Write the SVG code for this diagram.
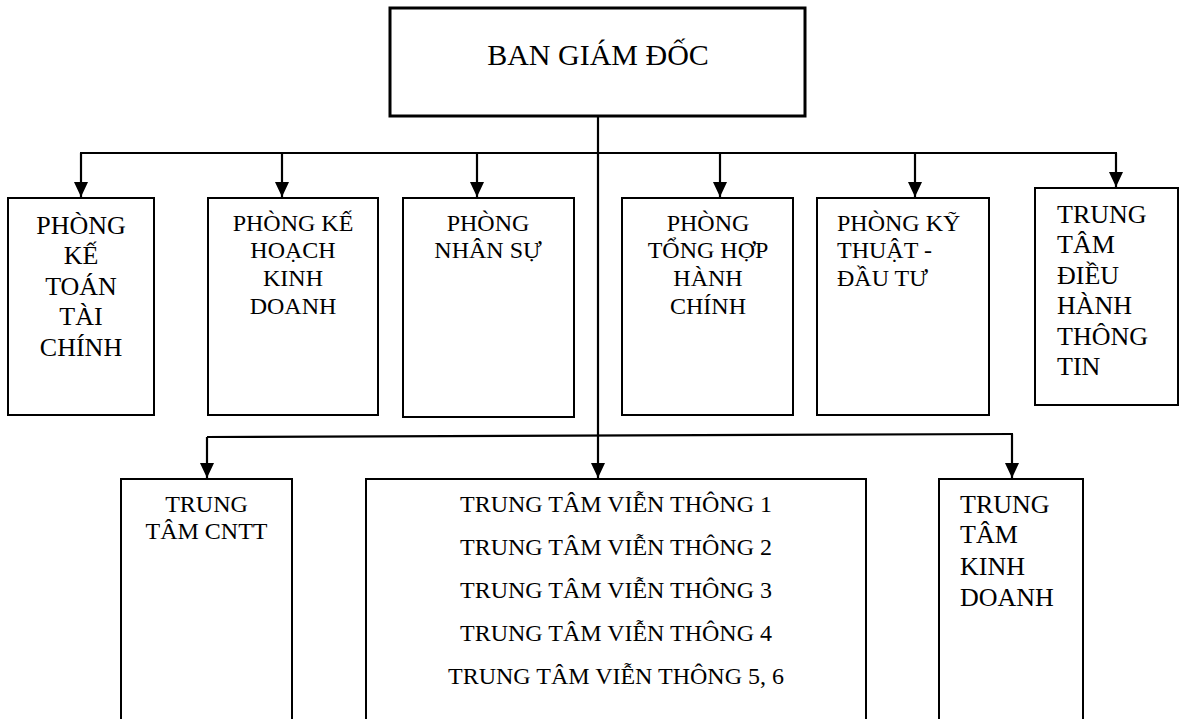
<svg xmlns="http://www.w3.org/2000/svg" width="1181" height="719" viewBox="0 0 1181 719">
<style>
.box{fill:#fff;stroke:#000;stroke-width:2}
.top{fill:#fff;stroke:#000;stroke-width:3}
.ln{fill:none;stroke:#000;stroke-width:2.2}
text{font-family:"Liberation Serif","Times New Roman",serif;fill:#000}
.c{text-anchor:middle}
.s24{font-size:24px}
.s26{font-size:26px}
</style>
<defs>
<marker id="ah" markerWidth="15" markerHeight="14" refX="15" refY="7" orient="auto" markerUnits="userSpaceOnUse">
<path d="M0,0 L15,7 L0,14 Z" fill="#000"/>
</marker>
</defs>
<g id="connectors">
<line class="ln" x1="598" y1="116" x2="598" y2="478" marker-end="url(#ah)"/>
<line class="ln" x1="80" y1="153" x2="1117" y2="153"/>
<line class="ln" x1="81" y1="153" x2="81" y2="197" marker-end="url(#ah)"/>
<line class="ln" x1="282" y1="153" x2="282" y2="197" marker-end="url(#ah)"/>
<line class="ln" x1="477" y1="153" x2="477" y2="197" marker-end="url(#ah)"/>
<line class="ln" x1="720" y1="153" x2="720" y2="197" marker-end="url(#ah)"/>
<line class="ln" x1="915" y1="153" x2="915" y2="197" marker-end="url(#ah)"/>
<line class="ln" x1="1116" y1="153" x2="1116" y2="187" marker-end="url(#ah)"/>
<line class="ln" x1="207" y1="437" x2="1013" y2="434"/>
<line class="ln" x1="207" y1="437" x2="207" y2="478" marker-end="url(#ah)"/>
<line class="ln" x1="1012" y1="434" x2="1012" y2="478" marker-end="url(#ah)"/>
</g>
<g id="ban-giam-doc">
<rect class="top" x="390" y="8" width="415" height="108"/>
<text class="c" x="598" y="65" font-size="30">BAN GIÁM ĐỐC</text>
</g>
<g id="phong-ke-toan">
<rect class="box" x="8" y="198" width="146" height="217"/>
<text class="c s26" x="81"><tspan x="81" y="234">PHÒNG</tspan><tspan x="81" y="264">KẾ</tspan><tspan x="81" y="295">TOÁN</tspan><tspan x="81" y="325">TÀI</tspan><tspan x="81" y="356">CHÍNH</tspan></text>
</g>
<g id="phong-ke-hoach">
<rect class="box" x="208" y="198" width="170" height="217"/>
<text class="c s24"><tspan x="293" y="231">PHÒNG KẾ</tspan><tspan x="293" y="258">HOẠCH</tspan><tspan x="293" y="286">KINH</tspan><tspan x="293" y="314">DOANH</tspan></text>
</g>
<g id="phong-nhan-su">
<rect class="box" x="403" y="198" width="171" height="219"/>
<text class="c s24"><tspan x="488" y="231">PHÒNG</tspan><tspan x="488" y="258">NHÂN SỰ</tspan></text>
</g>
<g id="phong-tong-hop">
<rect class="box" x="622" y="198" width="171" height="217"/>
<text class="c s24"><tspan x="708" y="231">PHÒNG</tspan><tspan x="708" y="258">TỔNG HỢP</tspan><tspan x="708" y="286">HÀNH</tspan><tspan x="708" y="314">CHÍNH</tspan></text>
</g>
<g id="phong-ky-thuat">
<rect class="box" x="817" y="198" width="172" height="217"/>
<text class="s24"><tspan x="837" y="231">PHÒNG KỸ</tspan><tspan x="837" y="258">THUẬT -</tspan><tspan x="837" y="286">ĐẦU TƯ</tspan></text>
</g>
<g id="trung-tam-dieu-hanh">
<rect class="box" x="1035" y="188" width="143" height="217"/>
<text class="s26"><tspan x="1057" y="223">TRUNG</tspan><tspan x="1057" y="253">TÂM</tspan><tspan x="1057" y="284">ĐIỀU</tspan><tspan x="1057" y="314">HÀNH</tspan><tspan x="1057" y="345">THÔNG</tspan><tspan x="1057" y="375">TIN</tspan></text>
</g>
<g id="trung-tam-cntt">
<rect class="box" x="121" y="479" width="171" height="250"/>
<text class="c s24"><tspan x="206.5" y="512">TRUNG</tspan><tspan x="206.5" y="539">TÂM CNTT</tspan></text>
</g>
<g id="trung-tam-vien-thong">
<rect class="box" x="366" y="479" width="500" height="250"/>
<text class="c s24"><tspan x="616" y="512">TRUNG TÂM VIỄN THÔNG 1</tspan><tspan x="616" y="555">TRUNG TÂM VIỄN THÔNG 2</tspan><tspan x="616" y="598">TRUNG TÂM VIỄN THÔNG 3</tspan><tspan x="616" y="641">TRUNG TÂM VIỄN THÔNG 4</tspan><tspan x="616" y="684">TRUNG TÂM VIỄN THÔNG 5, 6</tspan></text>
</g>
<g id="trung-tam-kinh-doanh">
<rect class="box" x="939" y="479" width="144" height="250"/>
<text class="s26"><tspan x="960" y="513">TRUNG</tspan><tspan x="960" y="543">TÂM</tspan><tspan x="960" y="575">KINH</tspan><tspan x="960" y="606">DOANH</tspan></text>
</g>
</svg>
